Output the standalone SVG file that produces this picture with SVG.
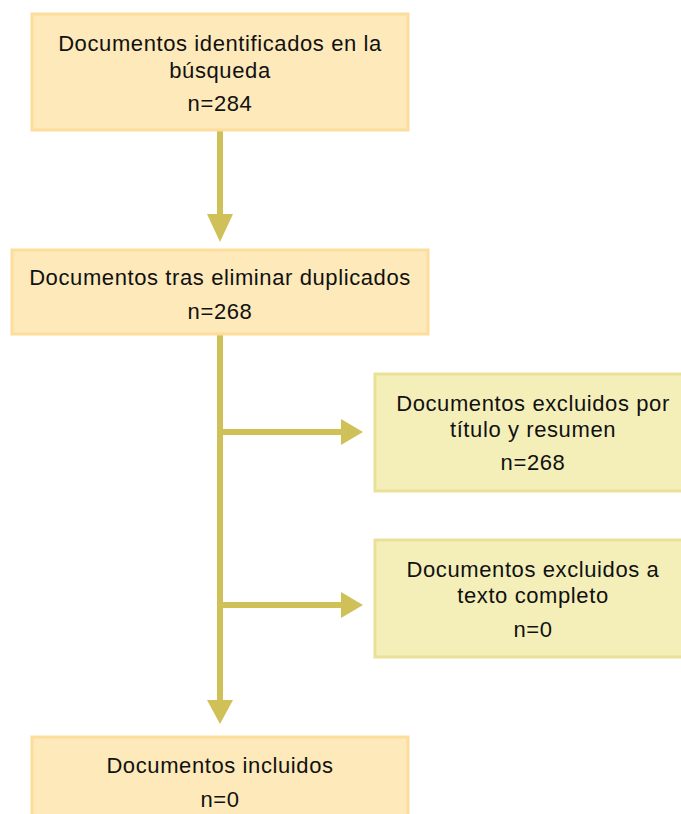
<svg xmlns="http://www.w3.org/2000/svg" width="681" height="814" viewBox="0 0 681 814">
<style>
.o{fill:#FDE9B9;stroke:#FCDD9B;stroke-width:3}
.y{fill:#F4EFB9;stroke:#E9E197;stroke-width:3}
text{font-family:"Liberation Sans",Arial,sans-serif;font-size:22px;letter-spacing:0.6px;fill:#111;text-anchor:middle}
.c{stroke:#CFC058;stroke-width:6;fill:none}
.h{fill:#CFC058}
</style>
<rect width="681" height="814" fill="#fff"/>
<g id="connectors">
<line class="c" x1="220" y1="131" x2="220" y2="216"/>
<polygon class="h" points="207,214 233,214 220,242"/>
<line class="c" x1="220" y1="334" x2="220" y2="702"/>
<polygon class="h" points="207,700 233,700 220,724"/>
<line class="c" x1="220" y1="432" x2="344" y2="432"/>
<polygon class="h" points="341,419 341,445 363,432"/>
<line class="c" x1="220" y1="605" x2="344" y2="605"/>
<polygon class="h" points="341,592 341,618 363,605"/>
</g>
<g id="n1">
<rect class="o" x="32" y="14" width="376" height="116"/>
<text x="220" y="51">Documentos identificados en la</text>
<text x="220" y="78">búsqueda</text>
<text x="220" y="111">n=284</text>
</g>
<g id="n2">
<rect class="o" x="12" y="250" width="416" height="84"/>
<text x="220" y="285">Documentos tras eliminar duplicados</text>
<text x="220" y="319">n=268</text>
</g>
<g id="n3">
<rect class="y" x="375" y="374" width="310" height="117"/>
<text x="533" y="411">Documentos excluidos por</text>
<text x="533" y="437">título y resumen</text>
<text x="533" y="470">n=268</text>
</g>
<g id="n4">
<rect class="y" x="375" y="540" width="310" height="117"/>
<text x="533" y="577">Documentos excluidos a</text>
<text x="533" y="603">texto completo</text>
<text x="533" y="637">n=0</text>
</g>
<g id="n5">
<rect class="o" x="32" y="737" width="376" height="90"/>
<text x="220" y="773">Documentos incluidos</text>
<text x="220" y="807">n=0</text>
</g>
</svg>
